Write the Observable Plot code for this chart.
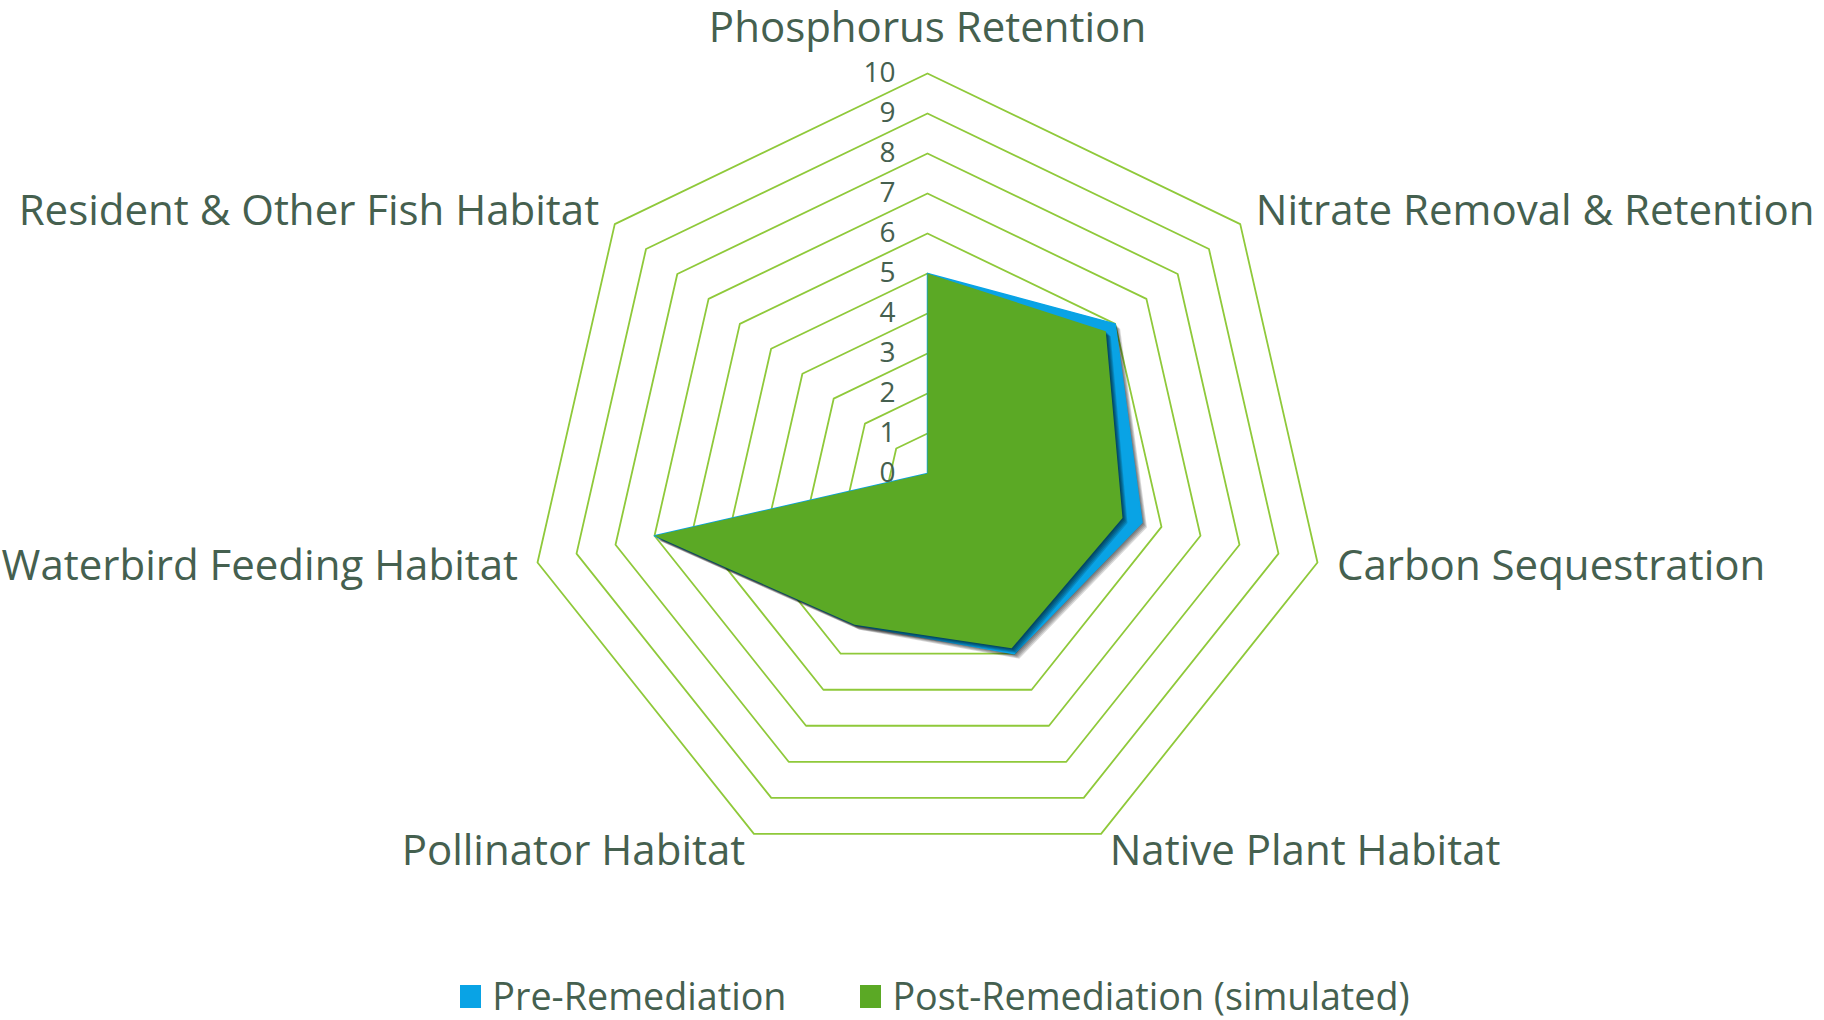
<!DOCTYPE html>
<html>
<head>
<meta charset="utf-8">
<script src="https://cdn.jsdelivr.net/npm/d3@7"></script>
<script src="https://cdn.jsdelivr.net/npm/@observablehq/plot@0.6"></script>
<style>
  html, body { margin: 0; padding: 0; background: #ffffff; }
  body { width: 1824px; height: 1020px; overflow: hidden; font-family: "Open Sans", sans-serif; }
  #chart svg { display: block; }
  #legend { display: flex; justify-content: center; align-items: center; gap: 74px; height: 40px; margin-top: 16px; padding-left: 46px; color: #45604f; font-size: 37.7px; line-height: 40px; }
  .item { display: flex; align-items: center; }
  .sw { width: 21px; height: 23px; margin-right: 11px; }
</style>
</head>
<body>
<div id="chart"></div>
<div id="legend"></div>
<script>
const categories = [
  "Phosphorus Retention",
  "Nitrate Removal & Retention",
  "Carbon Sequestration",
  "Native Plant Habitat",
  "Pollinator Habitat",
  "Waterbird Feeding Habitat",
  "Resident & Other Fish Habitat"
];
const preRemediation = [5, 6, 5.5, 5, 4.2, 7, 0];
const postRemediation = [5, 5.7, 5, 4.85, 4.2, 7, 0];
const tickValues = [0, 1, 2, 3, 4, 5, 6, 7, 8, 9, 10];
const seriesNames = ["Pre-Remediation", "Post-Remediation (simulated)"];
const seriesColors = ["#09a3e5", "#5ba925"];

const W = 1824, H = 960, cx = 927, cy = 473, unit = 40;
const textColor = "#45604f";
const ringColor = "#8fc93a";
const n = categories.length;
const ang = i => (i % n) * 2 * Math.PI / n;
const px = (r, i) => r * Math.sin(ang(i));
const py = (r, i) => r * Math.cos(ang(i));
const maxTick = d3.max(tickValues);

const rings = tickValues.filter(t => t > 0).flatMap(t =>
  d3.range(n + 1).map(i => ({t, i})));

const closed = vals => d3.range(n + 1).map(i => ({i, v: vals[i % n]}));
const preRows = closed(preRemediation);
const postRows = closed(postRemediation);

const labelR = maxTick * 1.05;
const labels = categories.map((c, i) => ({c, i}));
const midLabels = labels.filter(d => d.i === 0);
const startLabels = labels.filter(d => d.i >= 1 && d.i <= 3);
const endLabels = labels.filter(d => d.i >= 4);

const polyX = d => px(d.v, d.i);
const polyY = d => py(d.v, d.i);
const shadow = (rows) => [1, 2, 3, 4, 5].map(k =>
  Plot.line(rows, {x: polyX, y: polyY, dx: k, dy: k, fill: "#000", fillOpacity: 0.15, stroke: "none", curve: "linear-closed"}));

const chart = Plot.plot({
  width: W,
  height: H,
  margin: 0,
  style: {fontFamily: "'Open Sans', sans-serif", background: "white"},
  x: {domain: [-cx / unit, (W - cx) / unit], axis: null},
  y: {domain: [-(H - cy) / unit, cy / unit], axis: null},
  marks: [
    Plot.line(rings, {x: d => px(d.t, d.i), y: d => py(d.t, d.i), z: "t", stroke: ringColor, strokeWidth: 1.8, curve: "linear-closed"}),
    ...shadow(preRows),
    Plot.line(preRows, {x: polyX, y: polyY, fill: seriesColors[0], stroke: seriesColors[0], strokeWidth: 1.5, curve: "linear-closed"}),
    ...shadow(postRows),
    Plot.line(postRows, {x: polyX, y: polyY, fill: seriesColors[1], stroke: "none", curve: "linear-closed"}),
    Plot.text(midLabels, {x: d => px(labelR, d.i), y: d => py(labelR, d.i), text: "c", textAnchor: "middle", dy: -25, fontSize: 42, fill: textColor}),
    Plot.text(startLabels, {x: d => px(labelR, d.i), y: d => py(labelR, d.i), text: "c", textAnchor: "start", fontSize: 42, fill: textColor}),
    Plot.text(endLabels, {x: d => px(labelR, d.i), y: d => py(labelR, d.i), text: "c", textAnchor: "end", fontSize: 42, fill: textColor}),
    Plot.text(tickValues, {x: () => 0, y: d => d, text: d => String(d), textAnchor: "end", dx: -32, fontSize: 28, fill: textColor})
  ]
});
document.getElementById("chart").appendChild(chart);

const legend = document.getElementById("legend");
seriesNames.forEach((name, k) => {
  const item = document.createElement("div");
  item.className = "item";
  const sw = document.createElement("div");
  sw.className = "sw";
  sw.style.background = seriesColors[k];
  const tx = document.createElement("span");
  tx.textContent = name;
  item.appendChild(sw);
  item.appendChild(tx);
  legend.appendChild(item);
});
</script>
</body>
</html>
